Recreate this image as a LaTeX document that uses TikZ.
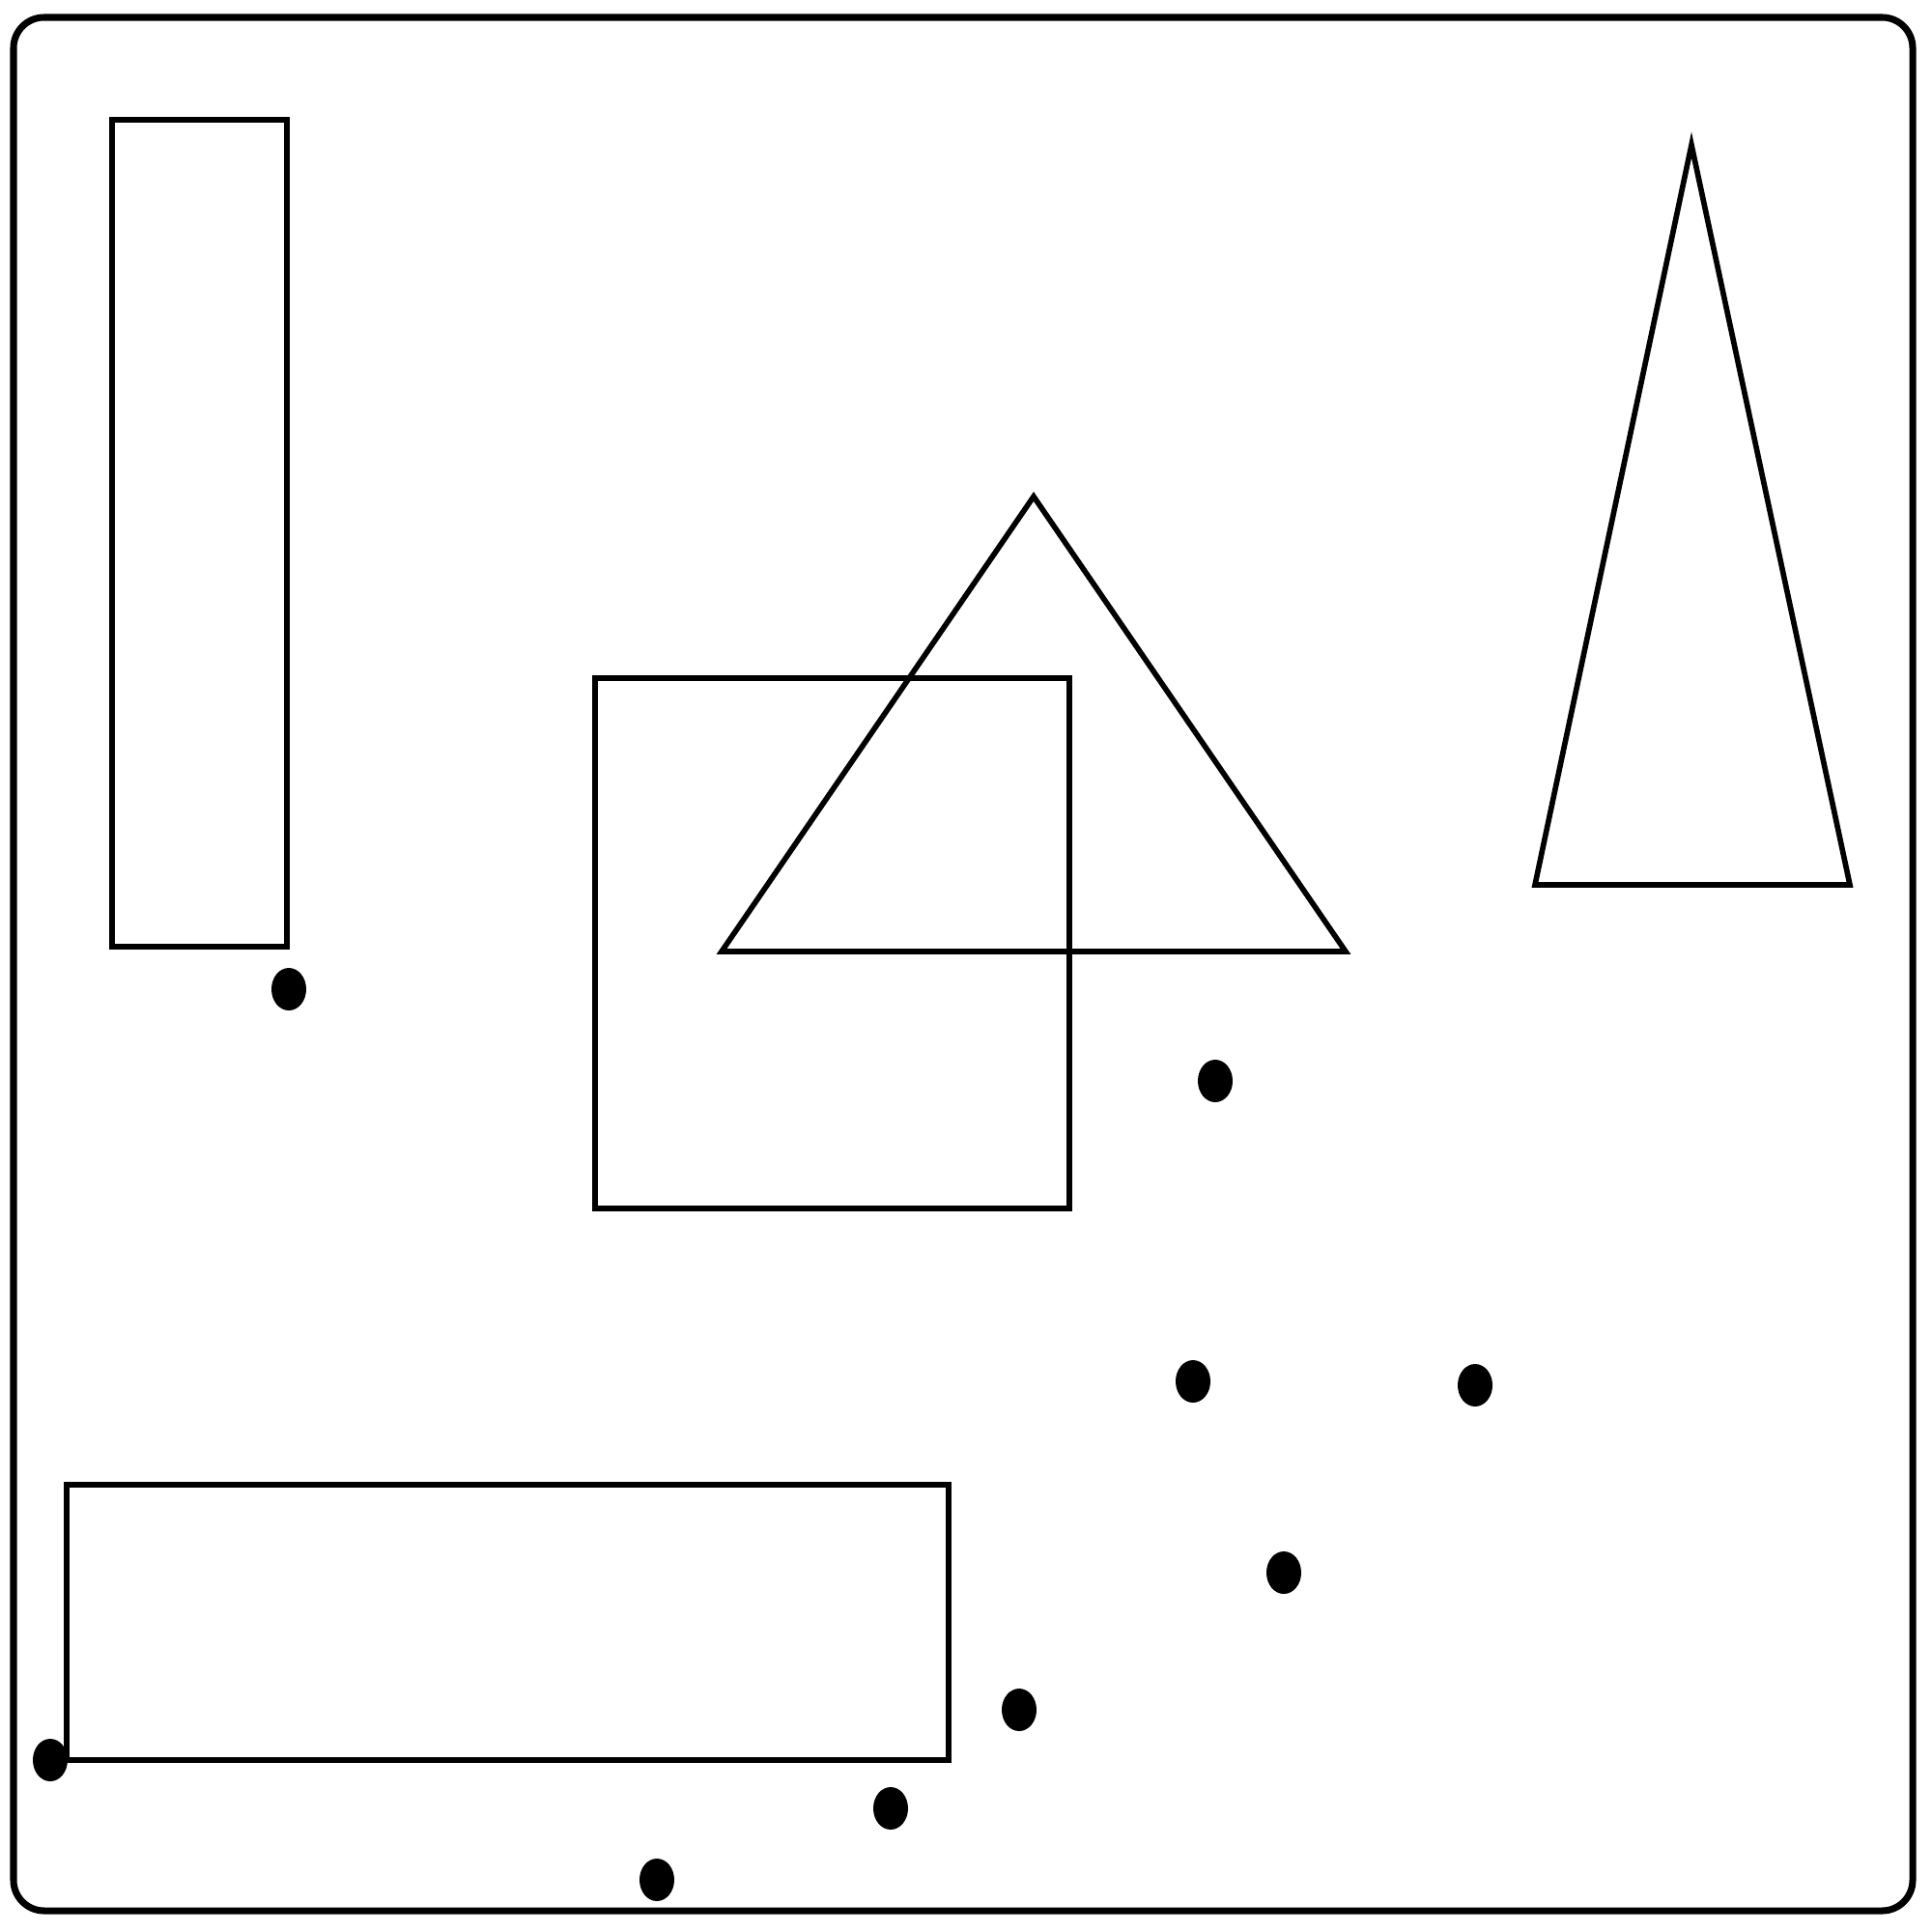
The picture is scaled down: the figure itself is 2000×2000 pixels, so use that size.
\documentclass[tikz,border=0pt]{standalone}
\begin{document}
\begin{tikzpicture}[x=.01cm, y=-.01cm, line join=miter]
\useasboundingbox (0,0) rectangle (2000,2000);
\tikzset{shape line/.style={draw, line width=1.6pt}}

\draw[line width=2pt, rounded corners=9pt] (14,18) rectangle (1980,1978);

\draw[shape line] (116,124) rectangle (297,980);
\draw[shape line] (616,702) rectangle (1107,1251);
\draw[shape line] (69,1537) rectangle (982,1822);

\draw[shape line] (1070,514) -- (1393,985) -- (747,985) -- cycle;
\draw[shape line] (1751,150) -- (1915,916) -- (1589,916) -- cycle;

\fill (299,1024) ellipse (18 and 22);
\fill (1258,1119) ellipse (18 and 22);
\fill (1235,1430) ellipse (18 and 22);
\fill (1527,1434) ellipse (18 and 22);
\fill (1329,1628) ellipse (18 and 22);
\fill (1055,1770) ellipse (18 and 22);
\fill (922,1872) ellipse (18 and 22);
\fill (680,1946) ellipse (18 and 22);
\fill (52,1822) ellipse (18 and 22);
\end{tikzpicture}
\end{document}
